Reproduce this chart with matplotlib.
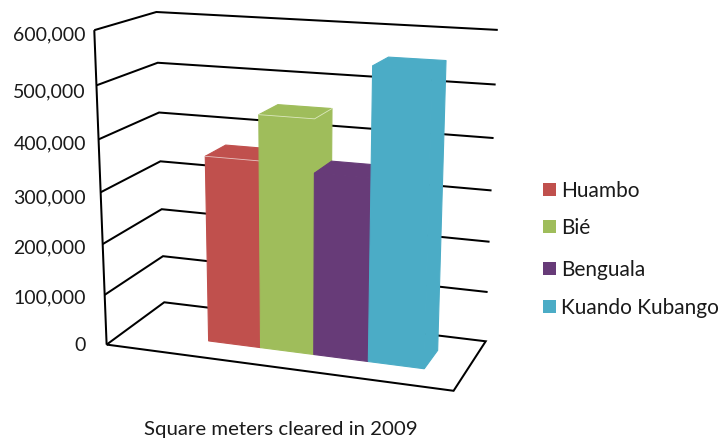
import numpy as np
import matplotlib
matplotlib.use("Agg")
import matplotlib.pyplot as plt
from matplotlib.patches import Polygon, Rectangle

# Square meters cleared per province
provinces = ["Huambo", "Bié", "Benguala", "Kuando Kubango"]
cleared = [364000, 450000, 350000, 552000]
colors = ["#C0504D", "#9FBD5B", "#673B78", "#4BACC6"]
highlights = ["#E8C4C2", "#DCE8BE", None, None]

ticks = [0, 100000, 200000, 300000, 400000, 500000, 600000]
tick_labels = ["0", "100,000", "200,000", "300,000", "400,000", "500,000", "600,000"]
tick_baselines = [351, 303, 253, 203, 149, 97, 40]
legend_baselines = [197, 234, 276, 314]
v_max = 600000

# box corners (x, value, depth) and where they land on the canvas
corners = [(0, 0, 0), (0, 1, 0), (1, 0, 0), (0, 0, 1), (0, 1, 1), (1, 0, 1), (1, 1, 1)]
canvas = [(106, 345), (95.5, 29.5), (453, 391), (165, 302), (155, 12.5), (486, 341), (498, 30)]

# bars sit on this part of the floor
bar_left, bar_right = 0.2585, 0.889
bar_front, bar_back = 0.32, 0.70


def fit_camera(world, image):
    rows, rhs = [], []
    for (x, y, z), (u, v) in zip(world, image):
        rows.append([x, y, z, 1, 0, 0, 0, 0, -u * x, -u * y, -u * z])
        rows.append([0, 0, 0, 0, x, y, z, 1, -v * x, -v * y, -v * z])
        rhs += [u, v]
    p = np.linalg.lstsq(np.array(rows, float), np.array(rhs, float), rcond=None)[0]
    return np.append(p, 1).reshape(3, 4)


cam = fit_camera(corners, canvas)


def project(x, v, d):
    h = cam @ np.array([x, v, d, 1.0])
    return h[0] / h[2], h[1] / h[2]


fig = plt.figure(figsize=(7.21, 4.38), dpi=100)
ax = fig.add_axes([0, 0, 1, 1])
ax.set_xlim(0, 721)
ax.set_ylim(438, 0)
ax.axis("off")
plt.rcParams["font.family"] = ["Lato", "DejaVu Sans"]


def line(points):
    xs, ys = zip(*[project(*p) for p in points])
    ax.plot(xs, ys, color="black", lw=1.45, solid_joinstyle="miter", solid_capstyle="butt", zorder=1)


# walls and floor
line([(0, 0, 0), (0, 1, 0)])
line([(0, 0, 0), (1, 0, 0), (1, 0, 1), (0, 0, 1), (0, 0, 0)])
for t in ticks[1:]:
    v = t / v_max
    line([(0, v, 0), (0, v, 1), (1, v, 1)])

# bars, left to right so each one covers the side of the previous
width = (bar_right - bar_left) / len(cleared)
for i, value in enumerate(cleared):
    x0 = bar_left + i * width
    x1 = x0 + width
    v = value / v_max
    faces = [
        [(x0, 0, bar_front), (x1, 0, bar_front), (x1, v, bar_front), (x0, v, bar_front)],
        [(x1, 0, bar_front), (x1, 0, bar_back), (x1, v, bar_back), (x1, v, bar_front)],
        [(x0, v, bar_front), (x1, v, bar_front), (x1, v, bar_back), (x0, v, bar_back)],
    ]
    for face in faces:
        pts = [project(*p) for p in face]
        ax.add_patch(Polygon(pts, closed=True, facecolor=colors[i], edgecolor=colors[i], lw=0.8, zorder=2 + i))
    # pale line along the front of the top face
    if highlights[i]:
        xs, ys = zip(*[project(*p) for p in [(x0, v, bar_front), (x1, v, bar_front), (x1, v, bar_back)]])
        ax.plot(xs, ys, color=highlights[i], lw=0.6, zorder=2 + i)

# tick labels
for label, y in zip(tick_labels, tick_baselines):
    ax.text(86, y, label, ha="right", va="baseline", fontsize=14, color="#1a1a1a")

# legend
for name, color, y in zip(provinces, colors, legend_baselines):
    ax.add_patch(Rectangle((543, y - 14), 13, 13, facecolor=color, edgecolor="none"))
    ax.text(561, y, name, ha="left", va="baseline", fontsize=15, color="#1a1a1a")

ax.text(144, 435, "Square meters cleared in 2009", ha="left", va="baseline", fontsize=14.7, color="#1a1a1a")

fig.savefig("out.png", dpi=100)
